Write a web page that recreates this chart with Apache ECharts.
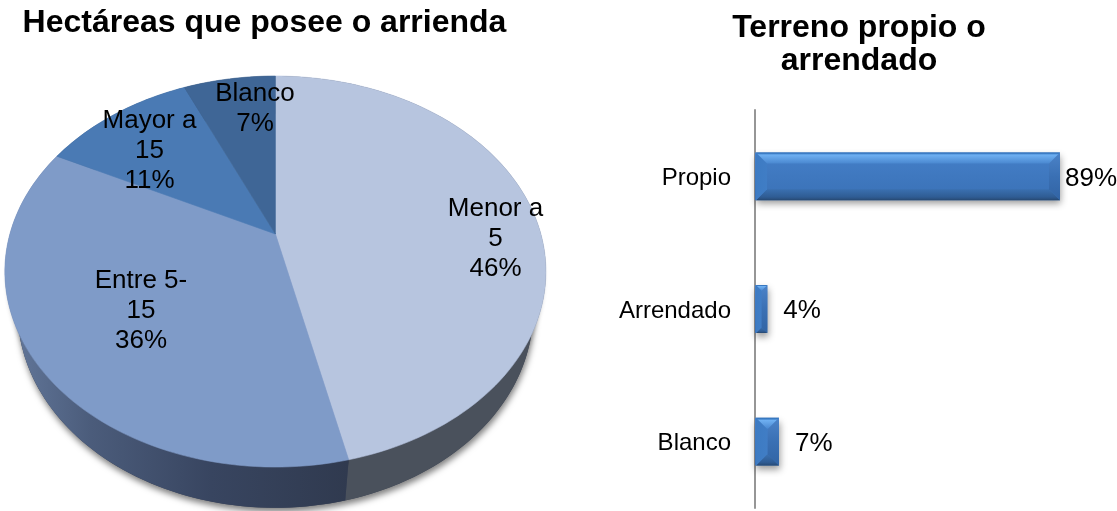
<!DOCTYPE html>
<html>
<head>
<meta charset="utf-8">
<style>html,body{margin:0;padding:0;background:#fff}#c{width:1117px;height:511px}</style>
<script src="https://cdn.jsdelivr.net/npm/echarts@6/dist/echarts.min.js"></script>
</head>
<body>
<div id="c"></div>
<script>
// ---- data ----
const pieCategories = ['Menor a\n5', 'Entre 5-\n15', 'Mayor a\n15', 'Blanco'];
const pieValues = [46.4, 36, 11, 6.6];
const barCategories = ['Propio', 'Arrendado', 'Blanco'];
const barValues = [89, 3.6, 7];

// ---- styling / layout ----
const FONT = '"Liberation Sans", Arial, sans-serif';
const faceColors = ['#b7c5df', '#7f9bc8', '#4a7ab4', '#3f6696'];
const labelCenters = [[495.5, 239], [141, 311], [149.5, 151], [255, 109]];
const barLabelDistance = [5, 16, 16];
const K = 0.192;
const topFace = { cx: 275.4, ay: 234, b: 188.3, c: 265.5 };
const baseFace = { cx: 275.4, ay: 273, b: 189.7, c: 253 };
const shadowFace = { cx: 275.4, ay: 236, b: 186, c: 262.5 };

function project(f, deg) {
  const t = deg * Math.PI / 180, d = 1 + K * Math.cos(t);
  return [f.cx + f.c * Math.sin(t) / d, f.ay - f.b * Math.cos(t) / d];
}
function arc(f, a0, a1) {
  const n = Math.max(2, Math.ceil(Math.abs(a1 - a0) / 1.5)), pts = [];
  for (let i = 0; i <= n; i++) pts.push(project(f, a0 + (a1 - a0) * i / n));
  return pts;
}
function sliceRange(i) {
  const total = pieValues.reduce((a, b) => a + b, 0);
  let s = 0;
  for (let j = 0; j < i; j++) s += pieValues[j];
  return [s / total * 360, (s + pieValues[i]) / total * 360];
}
function lin(x2, y2, stops) {
  return new echarts.graphic.LinearGradient(0, 0, x2, y2, stops.map(s => ({ offset: s[0], color: s[1] })));
}
const wallFills = [
  () => '#4a515c',
  () => lin(1, 0, [[0, '#64799c'], [0.25, '#4b5c7b'], [0.6, '#384560'], [1, '#303a4f']]),
  () => '#3a4f6e',
  () => '#324560'
];

const option = {
  animation: false,
  backgroundColor: '#fff',
  title: [
    { text: 'Hectáreas que posee o arrienda', left: 259.5, top: 2, textAlign: 'center',
      textStyle: { fontFamily: FONT, fontWeight: 'bold', fontSize: 32, color: '#000' } },
    { text: 'Terreno propio o\narrendado', left: 854, top: 7, textAlign: 'center',
      textStyle: { fontFamily: FONT, fontWeight: 'bold', fontSize: 32, lineHeight: 33, color: '#000' } }
  ],
  grid: { left: 755, top: 110, width: 342.7, height: 398, containLabel: false },
  xAxis: { type: 'value', min: 0, max: 100, show: false, splitLine: { show: false } },
  yAxis: {
    type: 'category', inverse: true, data: barCategories,
    axisLine: { show: true, lineStyle: { color: '#969696', width: 2 } },
    axisTick: { show: false },
    axisLabel: {
      margin: 24, formatter: '{a|{value}}',
      rich: { a: { fontFamily: FONT, fontSize: 24, color: '#000', padding: [4, 0, 0, 0] } }
    }
  },
  series: [
    // side wall of the pie
    {
      type: 'custom', coordinateSystem: 'none', z: 1, silent: true,
      data: pieValues.map(v => [v]),
      renderItem(params) {
        const i = params.dataIndex, r = sliceRange(i);
        const top = arc(topFace, r[0], r[1]), base = arc(baseFace, r[1], r[0]);
        const children = [{
          type: 'polygon', shape: { points: top.concat(base) },
          style: { fill: wallFills[i](), stroke: null }
        }];
        if (i === 0) {
          children.unshift({
            type: 'polygon', shape: { points: arc(baseFace, 0, 360) },
            style: { fill: '#3a4256', shadowColor: 'rgba(0,0,0,0.5)', shadowBlur: 6, shadowOffsetX: 1, shadowOffsetY: 4 }
          }, {
            type: 'polygon', shape: { points: arc(shadowFace, 0, 360) },
            style: { fill: '#8fa6cc', shadowColor: 'rgba(0,0,0,0.3)', shadowBlur: 5, shadowOffsetX: 0, shadowOffsetY: 6 }
          });
        }
        return { type: 'group', children };
      }
    },
    // top face of the pie
    {
      type: 'custom', coordinateSystem: 'none', z: 2, silent: true,
      data: pieValues.map(v => [v]),
      renderItem(params) {
        const i = params.dataIndex, r = sliceRange(i);
        const pts = [[topFace.cx, topFace.ay]].concat(arc(topFace, r[0], r[1]));
        return { type: 'polygon', shape: { points: pts },
          style: { fill: faceColors[i], stroke: faceColors[i], lineWidth: 0.6 } };
      }
    },
    // pie labels
    {
      type: 'custom', coordinateSystem: 'none', z: 3, silent: true,
      data: pieValues.map(v => [v]),
      renderItem(params, api) {
        const i = params.dataIndex;
        return { type: 'text', style: {
          text: pieCategories[i] + '\n' + Math.round(api.value(0)) + '%',
          x: labelCenters[i][0], y: labelCenters[i][1],
          align: 'center', verticalAlign: 'middle',
          fontFamily: FONT, fontSize: 26, lineHeight: 30, fill: '#000' } };
      }
    },
    // bars
    {
      type: 'bar', barWidth: '36%', z: 2, silent: true,
      data: barValues.map((v, i) => ({
        value: v,
        label: { distance: barLabelDistance[i] }
      })),
      itemStyle: {
        color: lin(0, 1, [[0, '#447fc8'], [1, '#3a71b6']]),
        shadowColor: 'rgba(0,0,0,0.4)', shadowBlur: 7, shadowOffsetX: 1, shadowOffsetY: 4
      },
      label: {
        show: true, position: 'right', color: '#000', fontFamily: FONT, fontSize: 26,
        offset: [0, 2],
        formatter: p => Math.round(p.value) + '%'
      }
    },
    // bar bevels
    {
      type: 'custom', coordinateSystem: 'cartesian2d', z: 3, silent: true,
      encode: { x: 0, y: 1 },
      data: barValues.map((v, i) => [v, i]),
      renderItem(params, api) {
        const c = api.value(1), p0 = api.coord([0, c]), p1 = api.coord([api.value(0), c]);
        const h = api.size([0, 1])[1] * 0.36;
        const x0 = p0[0] + 1, x1 = p1[0], y0 = p0[1] - h / 2, y1 = p0[1] + h / 2;
        const b = Math.min(11, (x1 - x0) / 2, h / 2);
        return { type: 'group', children: [
          { type: 'polygon', shape: { points: [[x0, y1], [x1, y1], [x1 - b, y1 - b], [x0 + b, y1 - b]] },
            style: { fill: lin(0, 1, [[0, '#3a70b0'], [0.7, '#2f5c94'], [0.9, '#2a507f'], [1, '#24466f']]) } },
          { type: 'polygon', shape: { points: [[x0, y0], [x0 + b, y0 + b], [x0 + b, y1 - b], [x0, y1]] },
            style: { fill: lin(1, 0, [[0, '#3d7bc3'], [1, '#407dc5']]) } },
          { type: 'polygon', shape: { points: [[x1, y0], [x1 - b, y0 + b], [x1 - b, y1 - b], [x1, y1]] },
            style: { fill: lin(0, 1, [[0, '#4c83c8'], [0.5, '#3a70b4'], [1, '#3264a4']]) } },
          { type: 'polygon', shape: { points: [[x0, y0], [x1, y0], [x1 - b, y0 + b], [x0 + b, y0 + b]] },
            style: { fill: lin(0, 1, [[0, '#2f6fb8'], [0.12, '#3f80c8'], [0.22, '#6fb0f2'], [1, '#4a88d0']]) } }
        ] };
      }
    }
  ]
};
echarts.init(document.getElementById('c')).setOption(option);
</script>
</body>
</html>
